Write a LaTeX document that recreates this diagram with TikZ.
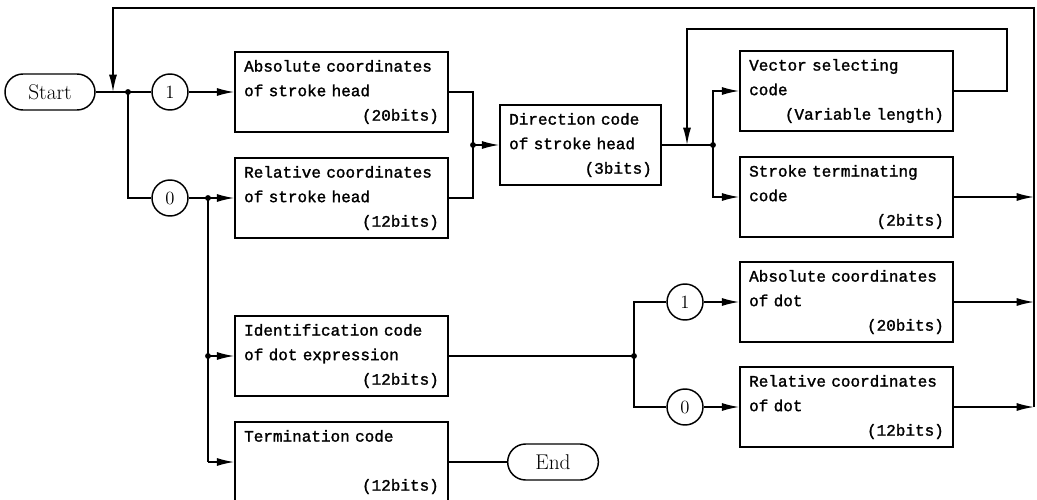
\documentclass[tikz,border=0pt]{standalone}
\usepackage{fontspec}
\newfontfamily\codefont{Liberation Mono}[FakeBold=1.5]
\usetikzlibrary{arrows.meta, positioning, shapes, calc}

\begin{document}
\begin{tikzpicture}[x=0.75pt, y=-0.75pt, line width=1.1pt, >={Latex[length=13pt,width=6pt]},
    codebox/.style={draw, rectangle, inner xsep=6.9pt, text width=#1, minimum height=60pt, align=left, font=\codefont\fontsize{12}{18.4}\selectfont},
    codebox/.default=146pt,
    bit/.style={draw, circle, minimum size=27pt, inner sep=0pt, font=\fontsize{14}{16}\selectfont},
    terminal/.style={draw, rectangle, rounded corners=13.5pt, minimum width=67.5pt, minimum height=27pt, font=\fontsize{16}{18}\selectfont}]
    \useasboundingbox (0,0) rectangle (1037,499);

    \node (start) [terminal] at (50,92) {Start};
    \node (one1) [bit] at (170,92) {1};
    \node (zero1) [bit] at (170,198) {0};
    \node (absHead) [codebox] at (341.5,92) {Absolute coordinates\\of stroke head\\\mbox{}\hfill(20bits)};
    \node (relHead) [codebox] at (341.5,198) {Relative coordinates\\of stroke head\\\mbox{}\hfill(12bits)};
    \node (dirHead) [codebox=107pt] at (580.5,145) {Direction code\\of stroke head\\\mbox{}\hfill(3bits)};
    \node (vecSel) [codebox] at (846.5,91) {Vector selecting\\code\\\mbox{}\hfill(Variable length)};
    \node (strokeEnd) [codebox] at (846.5,197) {Stroke terminating\\code\\\mbox{}\hfill(2bits)};
    \node (dotId) [codebox] at (341.5,356) {Identification code\\of dot expression\\\mbox{}\hfill(12bits)};
    \node (termCode) [codebox] at (341.5,462) {Termination code\\\mbox{}\\\mbox{}\hfill(12bits)};
    \node (endNode) [terminal, minimum width=68pt] at (553,462) {End};
    \node (one2) [bit] at (685,302) {1};
    \node (zero2) [bit] at (685,407) {0};
    \node (absDot) [codebox] at (846.5,302) {Absolute coordinates\\of dot\\\mbox{}\hfill(20bits)};
    \node (relDot) [codebox] at (846.5,407) {Relative coordinates\\of dot\\\mbox{}\hfill(12bits)};

    \coordinate (j1) at (128,92);
    \coordinate (j2) at (208,198);
    \coordinate (j3) at (473,145);
    \coordinate (j4) at (713,145);
    \coordinate (j5) at (634,356);
    \coordinate (loopIn) at (113,92);
    \coordinate (rTop) at (1034,8);
    \coordinate (vecLoop) at (1007,29);
    \coordinate (vecIn) at (687,145);

    \draw (start) -- (j1) -- (one1);
    \draw[->] (one1) -- (absHead);
    \draw (j1) |- (zero1);
    \draw (zero1) -- (j2);
    \draw[->] (j2) -- (relHead);
    \draw (j2) -- (j2 |- termCode);
    \draw[->] (j2 |- dotId) -- (dotId);
    \draw[->] (j2 |- termCode) -- (termCode);
    \draw (termCode) -- (endNode);

    \draw (absHead.east) -| (j3);
    \draw (relHead.east) -| (j3);
    \draw[->] (j3) -- (dirHead);
    \draw (dirHead) -- (j4);
    \draw[->] (j4) |- (vecSel.west);
    \draw[->] (j4) |- (strokeEnd.west);
    \draw[->] (vecSel.east) -| (vecLoop) -| (vecIn);

    \draw (dotId) -- (j5);
    \draw (j5) |- (one2);
    \draw (j5) |- (zero2);
    \draw[->] (one2) -- (absDot);
    \draw[->] (zero2) -- (relDot);

    \foreach \n in {strokeEnd, absDot, relDot}
        \draw[->] (\n.east) -- (\n.east -| rTop);
    \draw[->] (relDot.east -| rTop) -- (rTop) -| (loopIn);

    \foreach \p in {j1, j2, j3, j4, j5}
        \fill (\p) circle (2.2pt);
    \fill (j2 |- dotId) circle (2.2pt);
\end{tikzpicture}
\end{document}
